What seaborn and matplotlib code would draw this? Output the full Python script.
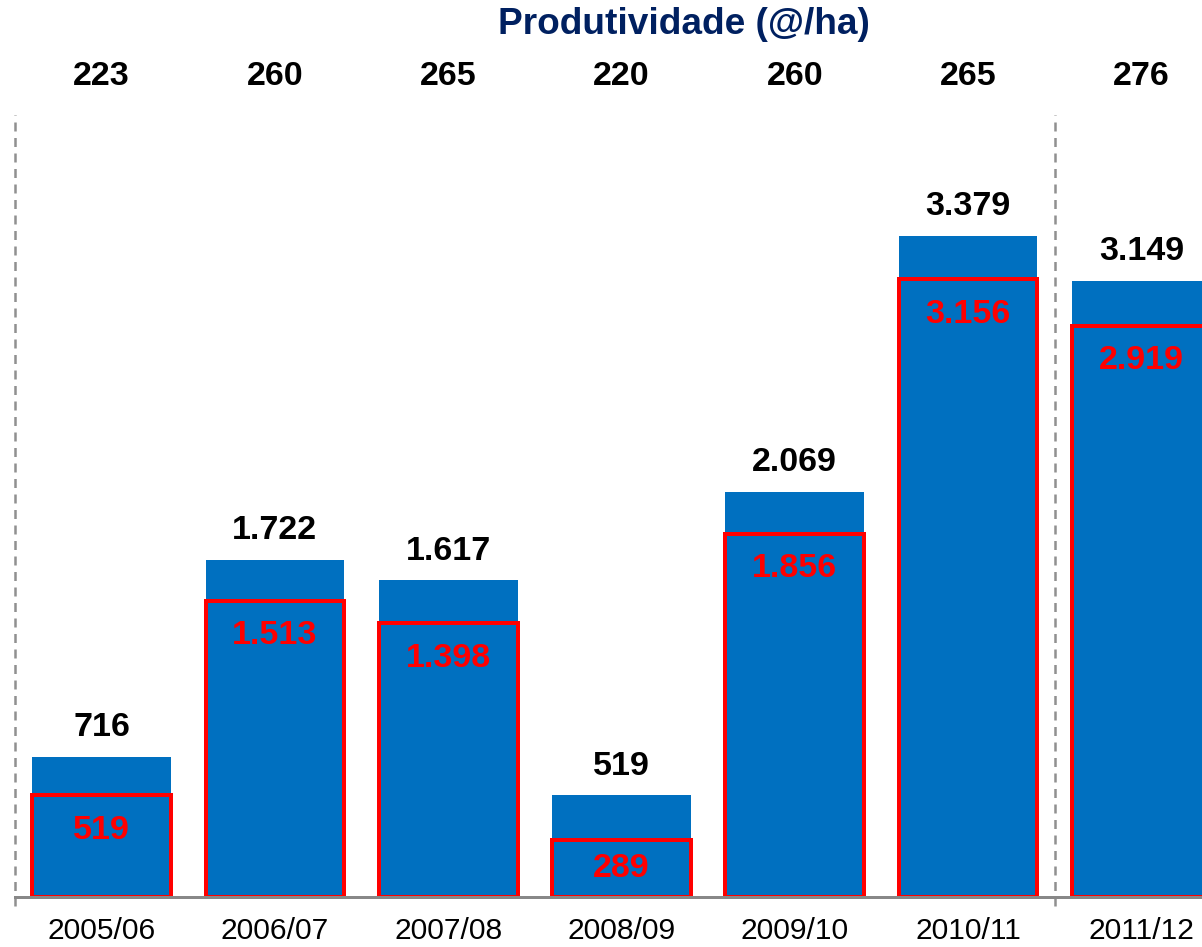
import pandas as pd
import matplotlib.pyplot as plt
import seaborn as sns

# safra data (values in thousands, Brazilian number format)
safras = ["2005/06", "2006/07", "2007/08", "2008/09", "2009/10", "2010/11", "2011/12"]
total = [716, 1722, 1617, 519, 2069, 3379, 3149]
inner = [519, 1513, 1398, 289, 1856, 3156, 2919]
produtividade = [223, 260, 265, 220, 260, 265, 276]

df = pd.DataFrame({"safra": safras, "total": total, "inner": inner})

def br(v):
    return f"{v:,}".replace(",", ".")

sns.set_style("white")
plt.rcParams["font.family"] = ["Liberation Sans", "DejaVu Sans"]

blue = "#0070C0"
DPI = 72
fig = plt.figure(figsize=(1202 / DPI, 947 / DPI), dpi=DPI)
# axes runs past the right edge of the figure, like the original slide
ax = fig.add_axes([15 / 1202, 50 / 947, 1213 / 1202, 783 / 947])

sns.barplot(data=df, x="safra", y="total", color=blue, width=0.8,
            saturation=1, linewidth=0, ax=ax)
sns.barplot(data=df, x="safra", y="inner", color=blue, width=0.8,
            saturation=1, edgecolor="#FF0000", linewidth=4, ax=ax)

ax.set_xlim(-0.5, 6.5)
ax.set_ylim(0, 4000)
ax.set_xlabel("")
ax.set_ylabel("")
ax.set_yticks([])
ax.tick_params(axis="x", length=0, pad=20, labelsize=30, labelcolor="black")
for s in ["top", "left", "right"]:
    ax.spines[s].set_visible(False)
ax.spines["bottom"].set_color("#888888")
ax.spines["bottom"].set_linewidth(3)

px = 783 / 4000  # pixels per unit
for i, (t, r) in enumerate(zip(total, inner)):
    ax.annotate(br(t), (i, t), xytext=(0, 29), textcoords="offset points",
                ha="center", va="center", fontsize=34, fontweight="bold", color="black")
    off = min(35, r * px / 2)
    ax.annotate(br(r), (i, r), xytext=(0, -off), textcoords="offset points",
                ha="center", va="center", fontsize=34, fontweight="bold", color="#FF0000")
    ax.text(i, (897 - 77) / 783, str(produtividade[i]), transform=ax.get_xaxis_transform(),
            ha="center", va="center", fontsize=34, fontweight="bold", color="black")

for xv in [-0.5, 5.5]:
    ax.axvline(xv, ymin=-0.012, ymax=(897 - 115) / 783, color="#909090", lw=2.5,
               dashes=(3.6, 2.6), clip_on=False)

fig.text(684 / 1202, 1 - 25 / 947, "Produtividade (@/ha)", ha="center", va="center",
         fontsize=37, fontweight="bold", color="#002060")

fig.savefig("out.png", dpi=DPI)
